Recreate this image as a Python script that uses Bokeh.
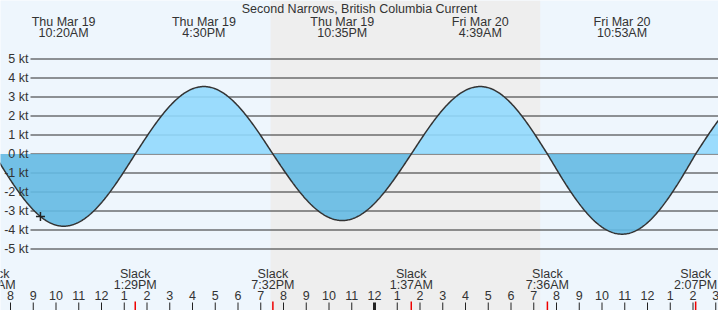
import numpy as np
from bokeh.plotting import figure
from bokeh.models import Range1d
from bokeh.embed import file_html
from bokeh.resources import INLINE
from bokeh.core.properties import value

# ---------------- data ----------------
title_text = "Second Narrows, British Columbia Current"
day_names = ["Thu Mar 19", "Fri Mar 20"]

extreme_days = ["Thu Mar 19", "Thu Mar 19", "Thu Mar 19", "Fri Mar 20", "Fri Mar 20"]
extreme_times = ["10:20AM", "4:30PM", "10:35PM", "4:39AM", "10:53AM"]
extreme_values = [-3.8, 3.55, -3.5, 3.55, -4.22]
# next extreme just past the right edge (only shapes the curve, not labelled)
next_extreme = ("Fri Mar 20", "5:05PM", 3.5)

slack_days = ["Thu Mar 19", "Thu Mar 19", "Thu Mar 19", "Fri Mar 20", "Fri Mar 20", "Fri Mar 20"]
slack_times = ["7:17AM", "1:29PM", "7:32PM", "1:37AM", "7:36AM", "2:07PM"]

sunset = ("Thu Mar 19", "7:26PM")
sunrise = ("Fri Mar 20", "7:17AM")
now_time = ("Thu Mar 19", "9:19AM")

y_ticks = [5, 4, 3, 2, 1, 0, -1, -2, -3, -4, -5]
hour_ticks = list(range(8, 40))

# ---------------- layout constants ----------------
W, H = 718, 310
PX_PER_HR = 22.75
X0 = 8 - 10 / PX_PER_HR
PX_PER_KT = 19.0
ZERO_PY = 153.5
DY = 4  # text baseline correction

TXT = "#333333"
FONT = value("Liberation Sans")
FS = value("12.5px")


def to_hours(day, tstr):
    hm, ap = tstr[:-2], tstr[-2:]
    h, m = hm.split(":")
    h = int(h) % 12 + (12 if ap == "PM" else 0)
    return day_names.index(day) * 24 + h + int(m) / 60.0


def xpx(px):
    return X0 + px / PX_PER_HR


def ypx(py):
    return (ZERO_PY - py) / PX_PER_KT


ext_t = [to_hours(d, t) for d, t in zip(extreme_days, extreme_times)]
slk_t = [to_hours(d, t) for d, t in zip(slack_days, slack_times)]
nx_t = to_hours(next_extreme[0], next_extreme[1])

# merge events in time order
events = sorted([(t, 0.0) for t in slk_t] + list(zip(ext_t, extreme_values)) + [(nx_t, next_extreme[2])])
ts, vs = [], []
for (ta, va), (tb, vb) in zip(events[:-1], events[1:]):
    f = np.linspace(0, 1, 80)
    if va == 0.0:
        seg = vb * np.sin(np.pi / 2 * f)
    else:
        seg = va * np.cos(np.pi / 2 * f)
    ts.extend(ta + (tb - ta) * f)
    vs.extend(seg)
ts = np.array(ts)
vs = np.array(vs)

p = figure(width=W, height=H, x_range=Range1d(X0, X0 + W / PX_PER_HR),
           y_range=Range1d(ypx(H), ypx(0)), output_backend="svg",
           toolbar_location=None, min_border=0, x_axis_type=None, y_axis_type=None)
p.outline_line_color = None
p.grid.visible = False
p.background_fill_color = "#EEF6FD"
p.border_fill_color = "#EEF6FD"

# night shading
p.quad(left=[to_hours(*sunset)], right=[to_hours(*sunrise)], bottom=[ypx(H)], top=[ypx(0)],
       fill_color="#EEEEEE", line_color=None)

# grid lines
p.segment(x0=xpx(30), x1=xpx(W + 5), y0=y_ticks, y1=y_ticks, line_color="#2b2b2b", line_width=1)

# fills
p.varea(x=ts, y1=np.zeros_like(vs), y2=np.maximum(vs, 0), fill_color="#91D9FD", fill_alpha=0.9)
p.varea(x=ts, y1=np.minimum(vs, 0), y2=np.zeros_like(vs), fill_color="#64BAE3", fill_alpha=0.9)

# y labels
p.text(x=[xpx(28)] * len(y_ticks), y=[v - (4 - DY) / PX_PER_KT for v in y_ticks],
       text=[f"{v} kt" for v in y_ticks], text_align="right", text_baseline="alphabetic",
       text_font=FONT, text_font_size=FS, text_color=TXT)

# curve
p.line(ts, vs, line_color="#333333", line_width=1.5)

# now marker
nt = to_hours(*now_time)
p.scatter(x=[nt], y=[float(np.interp(nt, ts, vs))], marker="cross", size=9,
          line_color="#222222", line_width=1.5)

# title
p.text(x=[xpx(359)], y=[ypx(12 - DY)], text=[title_text], text_align="center",
       text_baseline="alphabetic", text_font=FONT, text_font_size=FS, text_color=TXT)

# extreme labels
p.text(x=ext_t, y=[ypx(25 - DY)] * len(ext_t), text=extreme_days, text_align="center",
       text_baseline="alphabetic", text_font=FONT, text_font_size=FS, text_color=TXT)
p.text(x=ext_t, y=[ypx(36 - DY)] * len(ext_t), text=extreme_times, text_align="center",
       text_baseline="alphabetic", text_font=FONT, text_font_size=FS, text_color=TXT)

# slack labels
p.text(x=slk_t, y=[ypx(277 - DY)] * len(slk_t), text=["Slack"] * len(slk_t), text_align="center",
       text_baseline="alphabetic", text_font=FONT, text_font_size=FS, text_color=TXT)
p.text(x=slk_t, y=[ypx(288 - DY)] * len(slk_t), text=slack_times, text_align="center",
       text_baseline="alphabetic", text_font=FONT, text_font_size=FS, text_color=TXT)

# hour labels and ticks
hour_labels = [str(h % 12 if h % 12 else 12) for h in hour_ticks]
p.text(x=hour_ticks, y=[ypx(299 - DY)] * len(hour_ticks), text=hour_labels, text_align="center",
       text_baseline="alphabetic", text_font=FONT, text_font_size=FS, text_color=TXT)
reg = [h for h in hour_ticks if h % 24 != 0]
mid = [h for h in hour_ticks if h % 24 == 0]
p.segment(x0=reg, x1=reg, y0=[ypx(302)] * len(reg), y1=[ypx(H)] * len(reg),
          line_color="#222222", line_width=1)
p.segment(x0=mid, x1=mid, y0=[ypx(302)] * len(mid), y1=[ypx(H)] * len(mid),
          line_color="#222222", line_width=3)
p.segment(x0=slk_t, x1=slk_t, y0=[ypx(301)] * len(slk_t), y1=[ypx(H)] * len(slk_t),
          line_color="#EE0000", line_width=1.5)

open("out.html", "w").write(file_html(p, INLINE))
